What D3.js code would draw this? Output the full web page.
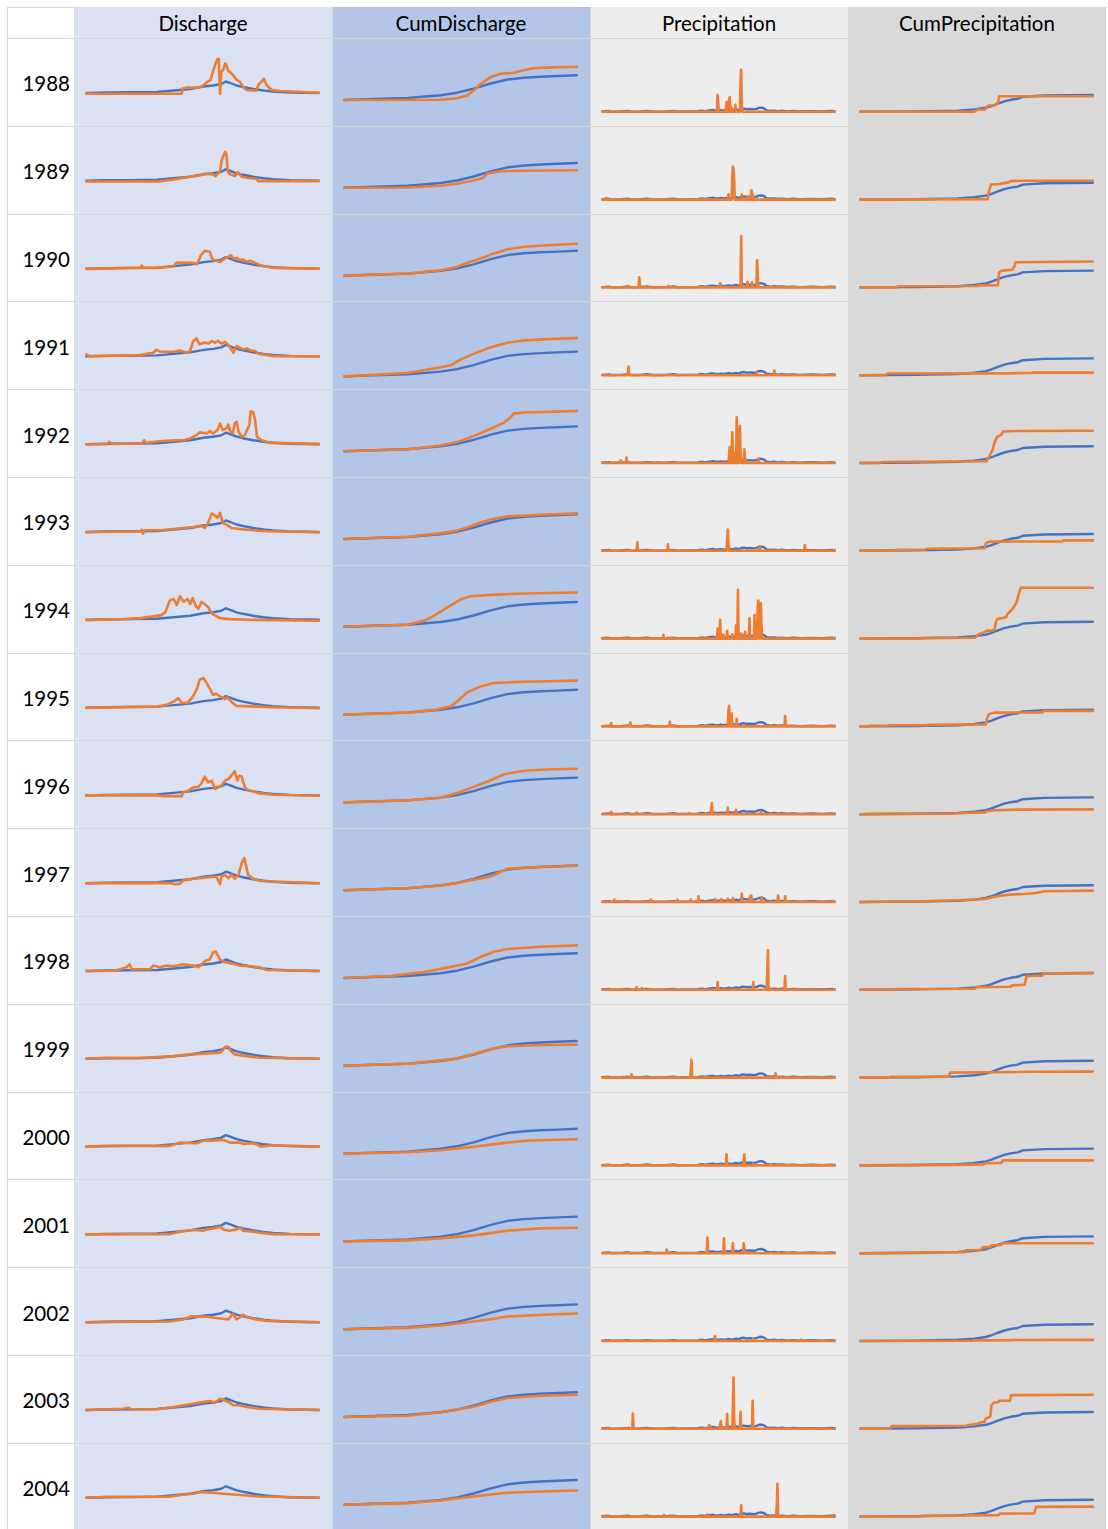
<!DOCTYPE html>
<html>
<head>
<meta charset="utf-8">
<script src="https://cdn.jsdelivr.net/npm/d3@7"></script>
<style>
  body { margin: 0; background: #fff; }
  svg { display: block; }
  text { font-family: Lato, "Noto Sans", sans-serif; fill: #000; }
</style>
</head>
<body>
<svg id="chart" width="1108" height="1529"></svg>
<script>
// ---------------------------------------------------------------------------
// Data: daily values per water year (day 0 = first day), observed (orange)
// against the long-term mean (blue), which is the same for every year.
// Discharge in m³/s, cumulative discharge in hm³ (x10), precipitation in mm.
// ---------------------------------------------------------------------------
const years = [1988, 1989, 1990, 1991, 1992, 1993, 1994, 1995, 1996,
               1997, 1998, 1999, 2000, 2001, 2002, 2003, 2004];
const columnNames = ["Discharge", "CumDischarge", "Precipitation", "CumPrecipitation"];

// long-term mean series: [day, value]
const meanDischarge = [[0,29.5],[32,30],[70,30.2],[111,30.5],[137,32],[163,33.5],[184,36],[199,37],[212,38.5],
  [219,41],[226,39.5],[236,37],[246,35.5],[262,33.5],[278,32],[293,31],[319,30],[365,29.5]];
const meanCumDischarge = [[0,0],[46,1],[99,2],[151,4.8],[177,7.3],[203,11.3],[230,16.5],[256,20.5],
  [282,22.3],[308,23.3],[335,24],[365,24.8]];
const meanPrecip = [[0,0.3],[10,0.8],[14,0.2],[30,0.3],[40,0.9],[45,0.2],[60,0.3],[70,0.9],[80,0.2],
  [100,0.3],[112,0.9],[118,0.2],[130,0.3],[150,0.5],[156,1.2],[162,0.6],[168,1.4],[174,1.8],[180,1.0],
  [186,1.6],[192,1.2],[198,2.0],[204,1.4],[210,2.4],[214,1.6],[218,2.8],[222,3.2],[226,2.6],[232,2.8],
  [238,2.4],[242,3.0],[246,4.0],[250,4.2],[254,3.4],[258,1.4],[264,0.8],[270,1.2],[276,0.6],[282,1.0],
  [290,0.4],[300,0.8],[310,0.3],[330,0.7],[345,0.3],[360,0.8],[365,0.4]];
const meanCumPrecip = [[0,0],[85,0.4],[153,1.2],[179,2.4],[197,4],[205,5.5],[215,8],[226,10.5],
  [236,12],[247,13],[255,15],[289,16.3],[365,16.8]];

// observed discharge per year: [day, m³/s]
const yearDischarge = [
  [[0,28.8],[150,28.8],[151,33.9],[158,34.9],[176,35],[182,36.2],[190,40.6],[195,42.3],[198,49],[202,57.4],[206,63.4],[208,63.4],[210,28.8],[212,51],[215,52.7],[218,59],[220,57.4],[223,51],[225,51],[230,47.6],[236,42.6],[241,40.9],[247,34.9],[252,32.5],[267,31.8],[270,37.5],[275,40.9],[279,43.6],[283,37.5],[291,32.5],[304,31.5],[365,29.8]],
  [[0,28.8],[115,28.8],[137,30.8],[163,33.5],[178,34.9],[186,36.5],[199,35.9],[203,34.2],[210,39.2],[213,51],[218,58.4],[220,56],[222,39.2],[226,35.9],[233,34.2],[238,38.2],[244,33.5],[252,32.5],[267,31.5],[270,29.2],[365,29.2]],
  [[0,29.2],[85,30.2],[87,32.4],[90,30.2],[115,30.2],[137,31.9],[142,35.5],[168,35.2],[174,33.9],[180,43],[186,47.3],[194,46.3],[198,38.6],[210,36.2],[218,39.6],[227,43],[231,39.6],[236,40.3],[241,38],[246,38.6],[252,36.2],[257,37.3],[265,35.2],[273,32.9],[293,30.2],[365,29.5]],
  [[0,31.5],[3,30.5],[6,29.8],[84,30.8],[105,33.2],[110,36.2],[116,34.2],[137,34.2],[147,35.5],[158,33.2],[163,34.9],[168,45],[173,47.6],[178,41.6],[186,43.3],[192,42.3],[197,45],[202,43.3],[207,45],[212,42.3],[218,44],[223,41],[231,33.2],[236,39.9],[241,38.2],[246,36.5],[252,37.5],[257,35.5],[265,34.9],[270,32.2],[293,29.8],[365,29.5]],
  [[0,29.5],[32,29.5],[36,31.8],[40,29.8],[87,30.2],[91,33.5],[94,30.8],[115,32.5],[137,33.5],[152,33.5],[163,35.2],[173,38.6],[178,41.3],[189,40.3],[194,42.6],[199,40.3],[206,43.6],[210,50.3],[214,43.6],[220,45.3],[223,49.3],[225,43.6],[230,40.3],[233,50.3],[236,52],[239,41.9],[244,36.9],[249,38.6],[256,48.7],[258,62.1],[262,61.4],[265,53.7],[268,36.9],[275,33.5],[288,30.8],[365,29.8]],
  [[0,29.2],[85,30.2],[87,31.8],[89,27.8],[91,31.2],[115,31.2],[137,32.5],[152,33.5],[168,34.5],[181,35.9],[186,33.5],[191,38.6],[197,48],[202,46],[206,43.6],[210,48.7],[214,38.6],[220,36.9],[228,33.5],[241,32.5],[252,31.8],[262,31.2],[283,30.2],[365,29.2]],
  [[0,29.2],[58,30.2],[85,31.2],[105,32.9],[118,34.2],[124,36.9],[131,48.7],[137,50.3],[142,44.3],[147,53],[153,47.6],[159,50.3],[163,45.3],[167,51.3],[172,43],[176,40.6],[181,47.3],[186,45],[191,42.6],[194,39.2],[199,34.9],[210,31.2],[225,30.2],[252,29.5],[293,29.2],[365,28.5]],
  [[0,29.2],[111,30.5],[126,32.2],[137,35.5],[144,38.9],[150,34.5],[158,33.9],[164,37.9],[169,42.3],[174,49],[178,57.4],[184,59],[189,54],[195,47.3],[199,42.3],[204,43.3],[210,40.6],[215,39.6],[218,37.9],[221,39.9],[225,37.2],[230,33.9],[236,31.2],[267,30.5],[293,29.8],[365,28.8]],
  [[0,29.5],[111,29.8],[121,28.8],[150,28.8],[152,32.5],[160,34.2],[168,37.5],[176,38.2],[181,41.6],[186,48.3],[191,42.6],[197,44.3],[202,35.9],[207,37.5],[212,39.2],[218,44.3],[223,45.9],[228,49.3],[233,53.7],[237,44.3],[240,49.3],[244,48.3],[249,37.5],[254,34.9],[262,33.5],[272,31.5],[293,30.2],[365,29.2]],
  [[0,29.5],[116,29.8],[134,29.5],[137,28.5],[147,28.8],[152,32.2],[168,33.9],[189,35.2],[204,36.2],[210,28.5],[212,36.2],[218,37.9],[223,34.5],[228,37.9],[233,33.9],[239,37.9],[244,49.7],[248,54.7],[251,46.3],[254,37.9],[262,33.9],[272,31.9],[293,31.2],[365,29.5]],
  [[0,29.5],[43,29.8],[53,31.2],[63,33.2],[68,36.2],[71,31.2],[100,31.2],[105,34.9],[116,33.2],[126,34.9],[137,34.2],[152,36.2],[168,34.9],[176,33.2],[186,39.2],[194,41.3],[199,48.3],[203,49],[210,40.9],[218,38.2],[231,36.5],[241,34.9],[257,34.2],[272,33.2],[283,30.5],[365,29.5]],
  [[0,29.5],[32,30.5],[84,30.2],[137,32.2],[163,33.9],[189,34.9],[210,35.5],[215,38.9],[219,41.6],[223,41.6],[227,37.2],[233,33.9],[252,32.2],[272,30.5],[365,29.5]],
  [[0,29.5],[32,30.2],[131,30.2],[147,33.5],[173,32.9],[184,35.5],[199,35.5],[210,36.2],[218,35.5],[226,33.5],[241,33.5],[246,32.2],[262,32.9],[270,31.2],[273,29.5],[293,30.8],[365,29.5]],
  [[0,29.5],[131,29.8],[147,32.2],[168,33.9],[184,33.2],[189,34.5],[199,35.5],[210,37.2],[215,34.5],[225,33.2],[236,34.5],[241,36.5],[246,33.2],[262,32.2],[272,31.2],[293,29.8],[365,29.5]],
  [[0,29.5],[131,30.2],[152,32.2],[165,35.5],[189,34.9],[210,33.2],[223,32.2],[230,38.2],[236,32.2],[241,34.2],[246,36.9],[254,34.2],[267,32.2],[283,30.8],[365,29.5]],
  [[0,29.5],[58,30.8],[66,31.8],[71,30.2],[111,30.2],[137,32.5],[163,35.2],[178,36.9],[194,38.5],[202,36.9],[210,40.8],[215,39.8],[223,37.5],[231,34.2],[241,34.2],[252,32.5],[272,30.8],[365,29.5]],
  [[0,29.5],[32,30.5],[131,30.5],[152,32.8],[168,33.5],[178,35.2],[199,34.5],[215,33.5],[231,32.8],[252,31.8],[272,30.8],[365,29.5]]
];

// observed cumulative discharge per year: [day, hm³ x10]
const yearCumDischarge = [
  [[0,0],[151,0.3],[177,1.7],[193,4.4],[203,9.4],[214,16.1],[230,22.9],[245,26.2],[266,27.2],[280,29.6],[298,31.9],[335,32.9],[365,33.1]],
  [[0,0],[99,0.3],[151,2],[177,4],[203,7.4],[217,9.7],[224,14.1],[240,16.1],[256,16.8],[282,17.1],[365,17.5]],
  [[0,0],[99,2],[151,5.4],[177,8.7],[193,12.8],[214,17.1],[235,22.2],[256,26.2],[282,28.9],[319,30.3],[365,31.9]],
  [[0,0],[99,3.4],[151,9.1],[167,11.1],[182,16.8],[203,22.5],[230,29.2],[256,33.6],[282,36],[319,37.3],[365,38.3]],
  [[0,0],[99,2],[151,5.7],[177,9.1],[203,15.1],[230,22.5],[251,28.6],[259,32.6],[266,37.6],[282,38.7],[319,39.3],[365,40.3]],
  [[0,0],[99,2.3],[151,5.6],[177,8.4],[193,11.5],[214,16.5],[235,20.3],[256,22.6],[308,24.3],[365,25.6]],
  [[0,0],[99,2],[125,6],[141,11.1],[162,19.5],[182,27.2],[198,30.6],[230,31.9],[282,33.3],[365,34.3]],
  [[0,0],[99,2],[141,4.7],[167,8.1],[177,13.1],[193,22.2],[214,28.2],[235,31.6],[282,32.9],[365,34]],
  [[0,0],[99,2],[151,4.7],[177,9.4],[203,15.5],[230,22.2],[251,28.2],[282,31.6],[319,32.9],[365,33.6]],
  [[0,0],[99,2],[151,4.7],[177,7.1],[203,10.4],[230,13.8],[245,18.2],[256,21.5],[308,23.2],[365,24.5]],
  [[0,0],[72,2],[125,6],[167,11.1],[193,14.5],[214,21.2],[235,26.2],[256,28.9],[308,31.3],[365,32.6]],
  [[0,0],[99,2],[151,5.4],[177,7.4],[203,11.8],[235,17.5],[256,19.5],[308,20.8],[365,21.2]],
  [[0,0],[99,1.3],[151,3.3],[203,6.7],[230,9],[256,11],[282,12.7],[308,13.3],[365,14.3]],
  [[0,0],[99,1],[151,3],[203,6],[230,8.3],[256,10.7],[308,13],[365,13.7]],
  [[0,0],[99,1.3],[151,3.7],[203,7.7],[230,10],[256,12.7],[308,14.3],[365,15.7]],
  [[0,0],[99,1.3],[151,4.7],[203,10.3],[230,15.3],[256,19],[308,21.3],[365,22.3]],
  [[0,0],[99,1.7],[151,4.3],[203,8.3],[230,10.3],[256,12],[308,13.3],[365,14.3]]
];

// observed rain days per year: [day, mm]; days not listed were dry
const yearPrecip = [
  [[181,17],[182,8],[195,9.7],[196,6],[199,12],[200,14.7],[203,4],[209,7],[217,30],[218,42],[219,6]],
  [[6,1.7],[198,5.4],[204,22],[205,33],[206,31],[207,20],[219,5],[228,3.4],[234,9.4],[235,7],[237,4]],
  [[40,1.5],[58,10],[59,4],[104,1.5],[185,4],[218,51.4],[228,5.7],[235,5],[243,27.2],[244,12]],
  [[41,8.7],[42,3],[242,3.4],[270,4.7]],
  [[29,2.7],[38,5.4],[86,1],[199,7.7],[200,16],[204,30.6],[205,12],[208,10],[211,45.7],[212,20],[215,30],[216,37.3],[217,10],[223,13.8],[224,5],[245,4.4]],
  [[55,8.4],[103,6.4],[196,12],[197,21.2],[198,8],[247,4.4],[318,5.7]],
  [[96,3.7],[181,10],[185,18.8],[190,4],[196,7.7],[204,4.4],[210,13.4],[213,48.7],[218,5],[224,6.7],[231,20.2],[239,23.5],[244,30],[245,38],[246,20],[248,30],[249,35.3],[250,12]],
  [[14,3.4],[44,4],[106,4.7],[198,16],[199,20.5],[201,10],[203,12.8],[211,7.7],[287,10.4]],
  [[14,2.4],[54,1.7],[137,1],[171,6],[172,11.1],[197,6.7],[210,4.4],[249,2.4]],
  [[19,2.4],[76,2.4],[118,2.4],[139,2.4],[151,5.7],[177,3],[187,3],[197,3.4],[205,4],[219,8.4],[232,5.7],[234,6.4],[250,4.7],[276,6.4],[287,5.7]],
  [[54,2.7],[62,1.7],[181,7.7],[237,7.7],[259,20],[260,39.7],[287,13.8]],
  [[46,3.4],[139,8],[140,17.8],[272,4.4]],
  [[195,11],[222,6],[223,11],[237,1.7]],
  [[101,3.7],[165,15.7],[191,15],[205,10],[222,10],[223,4]],
  [[177,5],[237,2.3],[312,1.3]],
  [[48,15.3],[168,3.7],[185,4],[186,7.7],[196,14.7],[205,20],[206,51.3],[207,10],[217,17],[236,28]],
  [[97,1.7],[165,2.3],[218,11.3],[274,12],[275,33],[364,1.7]]
];

// observed cumulative precipitation per year: [day, mm x5]
const yearCumPrecip = [
  [[0,0],[179,0],[183,2],[196,2.4],[197,3.4],[199,4.5],[200,6],[212,6.5],[213,7.7],[216,9],[217,11.1],[218,15.5],[365,15.5]],
  [[0,0],[200,0.5],[202,8],[205,15.1],[218,15.5],[226,16.5],[234,17.5],[236,18.5],[252,18.8],[365,18.8]],
  [[0,0],[58,0],[59,1.2],[184,1.4],[186,2],[216,2.2],[218,15],[221,16.5],[239,17.8],[242,21],[244,25.2],[365,25.9]],
  [[0,0],[40,0],[43,1.7],[241,1.8],[243,2.1],[269,2.2],[271,2.6],[365,2.6]],
  [[0,0],[28,0],[30,0.4],[38,1],[85,1.2],[198,1.7],[202,6],[206,11],[208,13.8],[211,21.2],[215,26.2],[221,27.9],[224,31.5],[245,32],[365,32.3]],
  [[0,0],[54,0],[56,1.1],[102,1.1],[104,2.1],[195,2.6],[197,7],[199,8.6],[205,9.2],[317,9.4],[319,10.4],[365,10.4]],
  [[0,0],[95,0],[97,0.5],[180,0.8],[182,2],[186,4.4],[196,6.5],[198,7.7],[209,8.2],[211,10],[213,17],[215,19.5],[229,21.2],[231,24.5],[239,29.6],[245,36],[247,40.5],[250,47],[252,50.8],[365,50.8]],
  [[0,0],[13,0],[15,0.6],[43,0.7],[45,1.1],[105,1.2],[107,1.7],[197,2],[199,8],[201,11],[203,12.5],[211,13.8],[286,14],[288,15.5],[365,15.5]],
  [[0,0],[14,0.3],[136,0.5],[172,1.5],[196,1.8],[198,3],[210,4],[249,4.6],[365,4.8]],
  [[0,0],[100,0.7],[153,1.7],[195,3],[215,5.7],[236,7.4],[257,8],[276,9],[289,10.8],[365,11.4]],
  [[0,0],[53,0.3],[55,0.8],[180,1],[182,2.7],[236,3],[238,4.4],[258,5],[261,13.8],[286,14.2],[288,16.5],[365,16.7]],
  [[0,0],[45,0.2],[47,0.7],[139,0.9],[141,5],[200,5.4],[272,5.8],[365,6]],
  [[0,0],[150,0.5],[194,1],[196,2.3],[221,2.5],[224,5],[365,5]],
  [[0,0],[100,0.3],[102,1],[164,1],[166,3],[190,3.2],[192,6],[204,6.3],[206,8],[221,8.2],[223,10],[365,10]],
  [[0,0],[176,0.2],[178,0.6],[236,0.7],[238,1],[365,1.1]],
  [[0,0],[47,0],[49,2.7],[167,3],[169,3.7],[185,5],[187,6],[195,7],[197,10.3],[204,12],[206,23.7],[210,26.3],[216,26.5],[218,28],[235,28.2],[237,33.7],[365,34]],
  [[0,0],[96,0.3],[98,0.7],[164,0.8],[166,1.2],[217,1.5],[219,3],[273,3.1],[276,9.7],[365,10]]
];

// ---------------------------------------------------------------------------
// Layout
// ---------------------------------------------------------------------------
const tableLeft = 7, labelRight = 74, colW = 258;
const headerTop = 7, headerBottom = 38, rowH = 87.8;
const width = 1108, height = 1529;
const blue = "#4472c4", orange = "#ed7d31", gridColor = "#d6d6d6";

// rain days -> one value per day (dry days are 0 mm)
const toDaily = events => {
  const m = new Map(events);
  return d3.range(0, 366).map(d => [d, m.has(d) ? m.get(d) : 0]);
};

const x = d3.scaleLinear().domain([0, 365]).range([12.3, colW - 13.2]);

const panels = [
  { name: columnNames[0], fill: "#d9e1f2", y: d3.scaleLinear().domain([0, 80]).range([84.5, 4.5]),
    mean: meanDischarge, byYear: yearDischarge },
  { name: columnNames[1], fill: "#b4c6e7", y: d3.scaleLinear().domain([0, 60]).range([62, 2]),
    mean: meanCumDischarge, byYear: yearCumDischarge },
  { name: columnNames[2], fill: "#ededed", y: d3.scaleLinear().domain([0, 60]).range([73.8, 13.8]),
    mean: meanPrecip, byYear: yearPrecip.map(toDaily) },
  { name: columnNames[3], fill: "#d9d9d9", y: d3.scaleLinear().domain([0, 60]).range([73.8, 13.8]),
    mean: meanCumPrecip, byYear: yearCumPrecip }
];

// the 1991 cumulative-discharge sparkline is anchored lower in its cell
const sparkNudge = new Map([["1991|CumDischarge", 13]]);

const rowY = d3.scaleLinear().domain([0, 1]).range([headerBottom, headerBottom + rowH]);
const colX = i => labelRight + i * colW;

const svg = d3.select("#chart");

// column backgrounds (header + body)
svg.selectAll("rect.col").data(panels).join("rect")
  .attr("class", "col")
  .attr("x", (d, i) => colX(i)).attr("y", headerTop)
  .attr("width", colW).attr("height", height - headerTop)
  .attr("fill", d => d.fill);

// grid lines
const grid = svg.append("g").attr("stroke", gridColor).attr("stroke-width", 1).attr("shape-rendering", "crispEdges");
grid.append("line").attr("x1", tableLeft).attr("x2", labelRight).attr("y1", headerTop + 0.5).attr("y2", headerTop + 0.5);
grid.selectAll("line.h").data(d3.range(years.length)).join("line")
  .attr("class", "h")
  .attr("x1", tableLeft).attr("x2", colX(4))
  .attr("y1", i => Math.round(rowY(i)) + 0.5).attr("y2", i => Math.round(rowY(i)) + 0.5);
grid.selectAll("line.v").data([tableLeft, labelRight, colX(1), colX(2), colX(3)]).join("line")
  .attr("class", "v")
  .attr("x1", d => d + 0.5).attr("x2", d => d + 0.5)
  .attr("y1", headerTop).attr("y2", height);

// header labels
svg.selectAll("text.head").data(panels).join("text")
  .attr("class", "head")
  .attr("x", (d, i) => colX(i) + colW / 2)
  .attr("y", (headerTop + headerBottom) / 2 + 0.5)
  .attr("text-anchor", "middle")
  .attr("dominant-baseline", "central")
  .attr("font-size", 20.5)
  .text(d => d.name);

// year labels
svg.selectAll("text.year").data(years).join("text")
  .attr("class", "year")
  .attr("x", labelRight - 4)
  .attr("y", (d, i) => rowY(i) + rowH / 2 + 1.5)
  .attr("text-anchor", "end")
  .attr("dominant-baseline", "central")
  .attr("font-size", 20.5)
  .text(d => d);

// sparklines
years.forEach((year, r) => {
  panels.forEach((p, c) => {
    const shift = sparkNudge.get(`${year}|${p.name}`) || 0;
    const g = svg.append("g")
      .attr("transform", `translate(${colX(c)},${rowY(r) + shift})`);
    const line = d3.line().x(d => x(d[0])).y(d => p.y(d[1]));
    g.append("path").datum(p.mean)
      .attr("fill", "none").attr("stroke", blue).attr("stroke-width", 2.4)
      .attr("stroke-linejoin", "round").attr("stroke-linecap", "round")
      .attr("d", line);
    g.append("path").datum(p.byYear[r])
      .attr("fill", "none").attr("stroke", orange).attr("stroke-width", 2.6)
      .attr("stroke-linejoin", "round").attr("stroke-linecap", "round")
      .attr("d", line);
  });
});
</script>
</body>
</html>
